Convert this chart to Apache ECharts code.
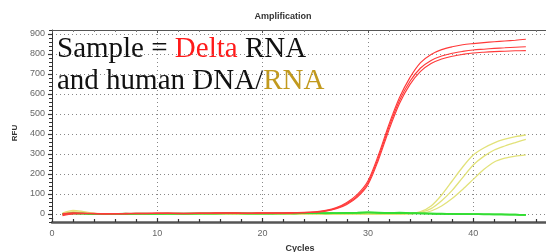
<!DOCTYPE html>
<html>
<head>
<meta charset="utf-8">
<script src="https://cdn.jsdelivr.net/npm/echarts@6/dist/echarts.min.js"></script>
<style>
html,body{margin:0;padding:0;background:#fff;}
#c{width:546px;height:252px;}
</style>
</head>
<body>
<div id="c"></div>
<script>
// ---- data ----
var cycles = [1,2,3,4,5,6,7,8,9,10,11,12,13,14,15,16,17,18,19,20,21,22,23,24,25,26,27,28,29,30,31,32,33,34,35,36,37,38,39,40,41,42,43,44,45];

var redA = [2,6,4,3,2,2,3,4,4,5,5,4,4,5,5,6,6,5,5,6,6,6,7,8,11,18,32,58,98,165,295,448,582,683,757,798,822,836,846,852,857,861,865,869,874];
var redB = [-3,3,3,2,1,2,2,3,3,4,4,3,3,4,4,5,5,4,4,5,5,5,6,7,10,16,29,53,90,155,282,435,568,664,730,768,790,804,813,820,824,828,831,834,836];
var redC = [-8,0,2,1,0,1,1,2,2,3,3,2,2,3,3,4,4,3,3,4,4,4,5,6,9,14,26,48,84,146,270,420,552,648,713,752,775,789,798,805,809,812,814,816,817];

var yelD = [5,18,12,4,1,0,0,1,1,0,0,0,1,1,0,1,1,0,0,1,1,0,0,1,1,0,0,1,1,0,0,0,1,3,12,40,95,165,235,295,330,356,374,387,395];
var yelE = [2,12,8,2,0,0,0,0,1,0,0,0,0,1,0,0,1,0,0,0,1,0,0,0,1,0,0,0,1,0,0,0,0,2,8,27,66,118,182,245,288,320,340,357,373];
var yelF = [-2,8,5,1,0,-1,0,0,0,-1,0,0,0,0,-1,0,0,0,0,0,0,-1,0,0,0,0,-1,0,0,0,0,0,0,1,4,15,40,77,123,173,222,260,279,289,296];

var grnG = [0,2,1,0,-1,0,1,2,2,1,1,2,2,3,3,4,6,4,3,3,3,3,4,5,4,4,5,5,6,8,6,5,5,4,3,2,1,0,0,-1,-1,-2,-2,-3,-4];
var grnH = [-2,4,2,1,0,1,2,1,1,2,2,1,2,2,3,3,4,3,2,2,3,4,3,4,5,5,4,6,7,9,7,6,7,5,4,3,2,1,0,0,-1,-1,-2,-3,-5];
var grnI = [1,3,2,0,0,-1,0,1,1,1,2,2,1,2,2,3,3,3,2,3,2,3,3,4,4,3,4,5,5,7,5,4,4,3,2,1,0,0,-1,-1,-2,-2,-3,-4,-5];

var xTicks = [0,10,20,30,40,50];
var yTicks = [0,100,200,300,400,500,600,700,800,900];

function pairs(arr){ return cycles.map(function(c,i){ return [c, arr[i]]; }); }

var chart = echarts.init(document.getElementById('c'), null, {renderer:'canvas'});

var gridLeft = 52, gridWidth = 526.5;
var sans = 'Liberation Sans, Arial, sans-serif';

function mk(name, arr, color, w){
  return {name:name, type:'line', data:pairs(arr), xAxisIndex:0, yAxisIndex:0,
    showSymbol:false, smooth:0.3, lineStyle:{color:color, width:w}, itemStyle:{color:color},
    silent:true, animation:false};
}

var option = {
  animation:false,
  backgroundColor:'#ffffff',
  grid:[
    {left:gridLeft, top:30, width:gridWidth, height:192, outerBoundsMode:'none', containLabel:false},
    {left:gridLeft, top:34, width:gridWidth, height:180, outerBoundsMode:'none', containLabel:false}
  ],
  xAxis:[
    {gridIndex:0, type:'value', position:'bottom', min:xTicks[0], max:xTicks[xTicks.length-1], interval:10,
      axisLine:{show:true, onZero:false, lineStyle:{color:'#555', width:2.5}},
      axisTick:{show:true, length:4, inside:true, lineStyle:{color:'#333', width:1.2}},
      minorTick:{show:true, splitNumber:5, length:3, lineStyle:{color:'#333', width:1.2}},
      axisLabel:{color:'#666', fontSize:9, fontFamily:sans, margin:7, showMaxLabel:false},
      splitLine:{show:true, lineStyle:{color:'#888', type:[1,3], width:1}}
    },
    {gridIndex:0, type:'value', position:'top', min:0, max:50, interval:10,
      axisLine:{show:true, onZero:false, lineStyle:{color:'#555', width:1}},
      axisTick:{show:true, inside:true, length:3, lineStyle:{color:'#555'}},
      minorTick:{show:true, splitNumber:5, length:2, lineStyle:{color:'#777'}},
      axisLabel:{show:false}, splitLine:{show:false}
    },
    {gridIndex:1, type:'value', min:0, max:50, show:false}
  ],
  yAxis:[
    {gridIndex:0, type:'value', min:-40, max:920, interval:20,
      axisLine:{show:true, onZero:false, lineStyle:{color:'#333', width:1}},
      axisTick:{show:true, length:3, lineStyle:{color:'#333'}},
      axisLabel:{show:false}, splitLine:{show:false}
    },
    {gridIndex:1, type:'value', min:yTicks[0], max:yTicks[yTicks.length-1], interval:100,
      axisLine:{show:false},
      axisTick:{show:true, length:4, lineStyle:{color:'#333', width:1.2}},
      axisLabel:{color:'#666', fontSize:9, fontFamily:sans, margin:7},
      splitLine:{show:true, lineStyle:{color:'#888', type:[1,3], width:1}}
    }
  ],
  series:[
    mk('D', yelD, '#e2e27a', 1.3),
    mk('E', yelE, '#e2e27a', 1.3),
    mk('F', yelF, '#e2e27a', 1.3),
    mk('G', grnG, '#33dd33', 1.5),
    mk('H', grnH, '#33dd33', 1.5),
    mk('I', grnI, '#33dd33', 1.5),
    mk('A', redA, '#ff3a3a', 1.15),
    mk('B', redB, '#ff3a3a', 1.15),
    mk('C', redC, '#ff3a3a', 1.15)
  ],
  graphic:[
    {type:'text', x:283, y:17, silent:true,
      style:{text:'Amplification', fill:'#333', font:'bold 9px ' + sans, align:'center', verticalAlign:'middle'}},
    {type:'text', x:300, y:249, silent:true,
      style:{text:'Cycles', fill:'#333', font:'bold 9px ' + sans, align:'center', verticalAlign:'middle'}},
    {type:'text', x:15, y:133, rotation:Math.PI/2, silent:true,
      style:{text:'RFU', fill:'#333', font:'bold 8px ' + sans, align:'center', verticalAlign:'middle'}},
    {type:'text', x:57, y:49.5, silent:true,
      style:{text:'{k|Sample = }{r|Delta}{k| RNA}', verticalAlign:'middle', align:'left',
        font:'29px "Liberation Serif", "Times New Roman", serif',
        rich:{
          k:{fill:'#111', font:'29px "Liberation Serif", "Times New Roman", serif'},
          r:{fill:'#ff1a1a', font:'29px "Liberation Serif", "Times New Roman", serif'}
        }}},
    {type:'text', x:57, y:81.5, silent:true,
      style:{text:'{k|and human DNA/}{g|RNA}', verticalAlign:'middle', align:'left',
        font:'29px "Liberation Serif", "Times New Roman", serif',
        rich:{
          k:{fill:'#111', font:'29px "Liberation Serif", "Times New Roman", serif'},
          g:{fill:'#c29a1e', font:'29px "Liberation Serif", "Times New Roman", serif'}
        }}}
  ]
};
chart.setOption(option);
</script>
</body>
</html>
